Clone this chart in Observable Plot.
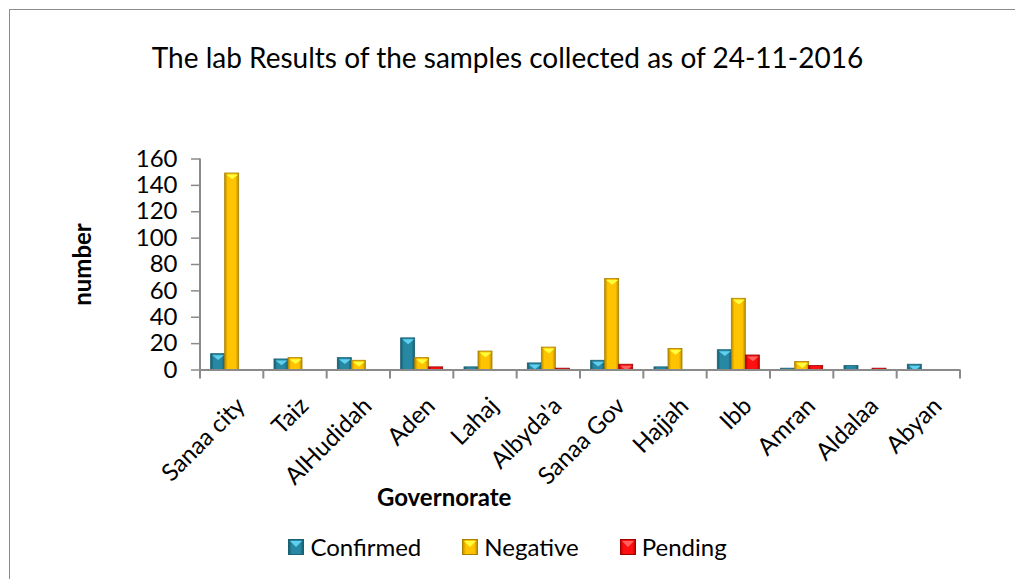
<!DOCTYPE html>
<html><head><meta charset="utf-8">
<script src="https://cdn.jsdelivr.net/npm/d3@7"></script>
<script src="https://cdn.jsdelivr.net/npm/@observablehq/plot@0.6"></script>
<style>
html,body{margin:0;padding:0;background:#fff;overflow:hidden;width:1015px;height:579px;font-family:Lato,sans-serif;color:#000;}
#frame{position:absolute;left:9px;top:9px;width:1300px;height:900px;border-left:1px solid #8c8c8c;border-top:1px solid #8c8c8c;box-sizing:border-box;}
#title{position:absolute;left:0;width:1015px;top:40px;text-align:center;font-size:28px;line-height:34px;}
#chart{position:absolute;left:0;top:90px;}
#legend{position:absolute;left:0;width:1015px;top:533px;display:flex;justify-content:center;gap:41px;font-size:24px;line-height:28px;}
.item{display:flex;align-items:center;gap:6px}
</style></head>
<body>
<div id="frame"></div>
<div id="title"></div>
<div id="chart"></div>
<div id="legend"></div>
<script>
const titleText = "The lab Results of the samples collected as of 24-11-2016";
const xLabel = "Governorate";
const yLabel = "number";
const categories = ["Sanaa city","Taiz","AlHudidah","Aden","Lahaj","Albyda'a","Sanaa Gov","Hajjah","Ibb","Amran","Aldalaa","Abyan"];
const series = ["Confirmed","Negative","Pending"];
const confirmed = [12, 8, 9, 24, 2, 5, 7, 2, 15, 1, 3, 4];
const negative  = [149, 9, 7, 9, 14, 17, 69, 16, 54, 6, 0, 0];
const pending   = [0, 0, 0, 2, 0, 1, 4, 0, 11, 3, 1, 0];
const yTicks = [0, 20, 40, 60, 80, 100, 120, 140, 160];

const colors = {
  Confirmed: {edge:"#17596b", mid:"#2688a3", cap:"#5fd0f0", stroke:"#1a5f72"},
  Negative:  {edge:"#b98a00", mid:"#ffc300", cap:"#ffff3c", stroke:"#a98000"},
  Pending:   {edge:"#b80000", mid:"#ff1010", cap:"#ff6060", stroke:"#a00000"}
};

const valuesBySeries = {Confirmed: confirmed, Negative: negative, Pending: pending};
const rows = series.flatMap(s => categories.map((c, i) => ({cat: c, series: s, value: valuesBySeries[s][i]})));

document.getElementById("title").textContent = titleText;

const capSymbol = {
  draw(ctx, size) {
    const r = Math.sqrt(size / Math.PI);
    ctx.moveTo(-r, 0); ctx.lineTo(r, 0); ctx.lineTo(0, r * 0.8); ctx.closePath();
  }
};

const capMarks = series.map(s => Plot.dot(rows.filter(d => d.series === s && d.value >= 4), {
  fx: "cat", x: "series", y: "value", symbol: capSymbol, r: 6, fill: colors[s].cap, stroke: "none", dy: 1
}));

const chart = Plot.plot({
  width: 1015, height: 430,
  marginLeft: 200, marginRight: 55, marginTop: 68.5, marginBottom: 150.5,
  style: {fontFamily: "Lato, sans-serif", fontSize: "24px", color: "#000", background: "transparent", overflow: "visible"},
  fx: {domain: categories, padding: 0, round: false, axis: null, label: null},
  x: {domain: series, paddingInner: 0, paddingOuter: 0.76, round: false, axis: null},
  y: {domain: [0, 160], axis: null},
  color: {domain: series, range: series.map(s => `url(#grad-${s})`)},
  marks: [
    Plot.barY(rows, {fx: "cat", x: "series", y: "value", fill: "series",
      stroke: d => colors[d.series].stroke, strokeWidth: 0.8}),
    ...capMarks,
    Plot.ruleY([0], {stroke: "#8a8a8a", strokeWidth: 2}),
    Plot.axisY({ticks: yTicks, tickSize: 9, tickPadding: 14, stroke: "#8a8a8a", strokeWidth: 1.5, label: null, fontSize: 24}),
    Plot.text(categories, {fx: d => d, text: d => d, frameAnchor: "bottom", rotate: -45,
      textAnchor: "end", lineAnchor: "middle", dx: 9, dy: 32, fontSize: 24}),
    Plot.text([categories[0]], {fx: d => d, text: () => yLabel, frameAnchor: "left", rotate: -90,
      textAnchor: "middle", lineAnchor: "middle", dx: -117, fontWeight: "bold", fontSize: 24}),
    Plot.text([categories[3]], {fx: d => d, text: () => xLabel, frameAnchor: "bottom",
      textAnchor: "middle", lineAnchor: "middle", dx: 22, dy: 128.5, fontWeight: "bold", fontSize: 24})
  ]
});

// gradients + axis line + category boundary ticks, from the plot's own scales
const svg = d3.select(chart);
const defs = svg.insert("defs", ":first-child");
series.forEach(s => {
  const g = defs.append("linearGradient").attr("id", `grad-${s}`).attr("x1", "0").attr("x2", "1").attr("y1", "0").attr("y2", "0");
  g.append("stop").attr("offset", "0").attr("stop-color", colors[s].edge);
  g.append("stop").attr("offset", "0.22").attr("stop-color", colors[s].mid);
  g.append("stop").attr("offset", "0.78").attr("stop-color", colors[s].mid);
  g.append("stop").attr("offset", "1").attr("stop-color", colors[s].edge);
});
const fx = chart.scale("fx"), y = chart.scale("y");
const y0 = y.apply(0), yTop = y.apply(yTicks[yTicks.length - 1]);
const bounds = categories.map(c => fx.apply(c));
bounds.push(bounds[bounds.length - 1] + fx.step);
const ax = svg.append("g").attr("stroke", "#8a8a8a");
ax.append("line").attr("x1", bounds[0]).attr("x2", bounds[0]).attr("y1", yTop).attr("y2", y0).attr("stroke-width", 2);
bounds.forEach(b => ax.append("line").attr("x1", b).attr("x2", b).attr("y1", y0).attr("y2", y0 + 9).attr("stroke-width", 2));

document.getElementById("chart").appendChild(chart);

// legend
const legend = d3.select("#legend");
series.forEach(s => {
  const it = legend.append("div").attr("class", "item");
  const sw = it.append("svg").attr("width", 16).attr("height", 16);
  sw.append("rect").attr("x", 0.5).attr("y", 0.5).attr("width", 15).attr("height", 15)
    .attr("fill", `url(#grad-${s})`).attr("stroke", colors[s].stroke);
  sw.append("path").attr("d", "M2,2 L14,2 L8,8 Z").attr("fill", colors[s].cap);
  it.append("span").text(s);
});
</script>
</body></html>
